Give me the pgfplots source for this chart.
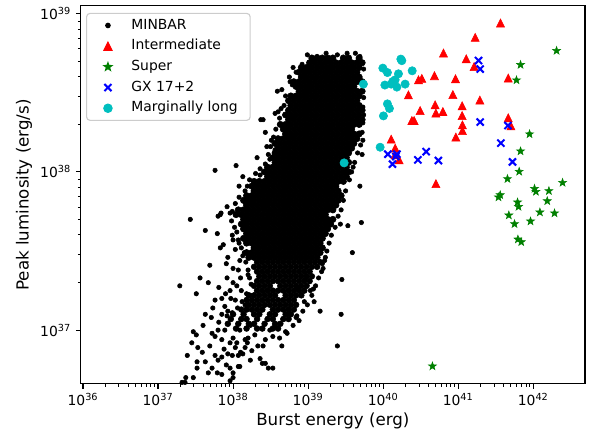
\documentclass[border=0pt]{standalone}
\usepackage{fontspec}
\setmainfont{DejaVu Sans}
\usepackage{pgfplots}
\pgfplotsset{compat=1.18}
\definecolor{mplcyan}{rgb}{0,0.75,0.75}
\definecolor{mplgreen}{rgb}{0,0.5,0}
\pgfdeclareplotmark{mtri}{%
  \pgfpathmoveto{\pgfqpoint{0pt}{\pgfplotmarksize}}%
  \pgfpathlineto{\pgfqpoint{-\pgfplotmarksize}{-\pgfplotmarksize}}%
  \pgfpathlineto{\pgfqpoint{\pgfplotmarksize}{-\pgfplotmarksize}}%
  \pgfpathclose\pgfusepathqfillstroke}
\pgfdeclareplotmark{fstar}{%
  \pgfpathmoveto{\pgfpointpolar{90}{\pgfplotmarksize}}%
  \pgfpathlineto{\pgfpointpolar{126}{0.4\pgfplotmarksize}}%
  \pgfpathlineto{\pgfpointpolar{162}{\pgfplotmarksize}}%
  \pgfpathlineto{\pgfpointpolar{198}{0.4\pgfplotmarksize}}%
  \pgfpathlineto{\pgfpointpolar{234}{\pgfplotmarksize}}%
  \pgfpathlineto{\pgfpointpolar{270}{0.4\pgfplotmarksize}}%
  \pgfpathlineto{\pgfpointpolar{306}{\pgfplotmarksize}}%
  \pgfpathlineto{\pgfpointpolar{342}{0.4\pgfplotmarksize}}%
  \pgfpathlineto{\pgfpointpolar{18}{\pgfplotmarksize}}%
  \pgfpathlineto{\pgfpointpolar{54}{0.4\pgfplotmarksize}}%
  \pgfpathclose\pgfusepathqfillstroke}
\begin{document}
\begin{tikzpicture}
\begin{axis}[
  scale only axis, width=363.1pt, height=272.2pt,
  xmode=log, ymode=log,
  xmin=9.33e35, xmax=4.9e42, ymin=4.57e36, ymax=1.12e39,
  xtick={1e36,1e37,1e38,1e39,1e40,1e41,1e42},
  xticklabels={10\textsuperscript{36},10\textsuperscript{37},10\textsuperscript{38},10\textsuperscript{39},10\textsuperscript{40},10\textsuperscript{41},10\textsuperscript{42}},
  ytick={1e37,1e38,1e39},
  yticklabels={10\textsuperscript{37},10\textsuperscript{38},10\textsuperscript{39}},
  tick align=outside, tick pos=left,
  major tick length=3.5pt, minor tick length=2pt,
  major tick style={line width=0.8pt, black},
  minor tick style={line width=0.6pt, black},
  axis line style={line width=0.8pt},
  tick label style={font=\fontsize{10}{12}\selectfont},
  label style={font=\fontsize{12}{14.4}\selectfont},
  xlabel={Burst energy (erg)}, ylabel={Peak luminosity (erg/s)},
  xlabel style={at={(axis description cs:0.5,-0.111)}, anchor=base},
  ylabel style={at={(axis description cs:-0.1035,0.5)}, anchor=base},
  legend cell align=left,
  legend image code/.code={\path (-8pt,0pt) (8pt,0pt); \draw[sharp corners,#1] plot coordinates {(0pt,0pt)};},
  legend style={at={(axis description cs:0,1)}, anchor=north west, xshift=3.8pt, yshift=-5pt,
    draw=black!20, line width=0.8pt, fill=white, rounded corners=2.5pt,
    inner xsep=7pt, inner ysep=1.7pt, row sep=0.9pt,
    font=\fontsize{10}{12}\selectfont,
    nodes={text height=7.6pt, text depth=2.4pt, inner ysep=2pt},
    /tikz/every odd column/.append style={column sep=6.5pt}},
]
% MINBAR dense core, upper part (log10 E, log10 L)
\addplot[only marks, mark=*, mark size=2.3pt, black, forget plot] table[row sep=\\, x expr=10^\thisrow{lx}, y expr=10^\thisrow{ly}] {
lx ly\\
39.05 38.72\\39.12 38.72\\39.19 38.72\\39.26 38.72\\39.33 38.72\\39.47 38.72\\39.54 38.72\\39.68 38.72\\
39.02 38.69\\39.09 38.69\\39.16 38.69\\39.23 38.69\\39.30 38.69\\39.37 38.69\\39.44 38.69\\39.51 38.69\\39.58 38.69\\39.65 38.69\\39.72 38.69\\
38.91 38.66\\38.98 38.66\\39.05 38.66\\39.12 38.66\\39.19 38.66\\39.26 38.66\\39.33 38.66\\39.40 38.66\\39.47 38.66\\39.54 38.66\\39.61 38.66\\39.68 38.66\\
38.88 38.63\\38.95 38.63\\39.02 38.63\\39.09 38.63\\39.16 38.63\\39.23 38.63\\39.30 38.63\\39.37 38.63\\39.44 38.63\\39.51 38.63\\39.58 38.63\\39.65 38.63\\
38.91 38.60\\38.98 38.60\\39.05 38.60\\39.12 38.60\\39.19 38.60\\39.26 38.60\\39.33 38.60\\39.40 38.60\\39.47 38.60\\39.54 38.60\\39.61 38.60\\39.68 38.60\\
38.81 38.57\\38.88 38.57\\38.95 38.57\\39.02 38.57\\39.09 38.57\\39.16 38.57\\39.23 38.57\\39.30 38.57\\39.37 38.57\\39.44 38.57\\39.51 38.57\\39.58 38.57\\39.65 38.57\\39.72 38.57\\
38.84 38.54\\38.91 38.54\\38.98 38.54\\39.05 38.54\\39.12 38.54\\39.19 38.54\\39.26 38.54\\39.33 38.54\\39.40 38.54\\39.47 38.54\\39.54 38.54\\39.61 38.54\\
38.88 38.51\\38.95 38.51\\39.02 38.51\\39.09 38.51\\39.16 38.51\\39.23 38.51\\39.30 38.51\\39.37 38.51\\39.44 38.51\\39.51 38.51\\39.58 38.51\\39.65 38.51\\39.72 38.51\\
38.77 38.48\\38.84 38.48\\38.91 38.48\\38.98 38.48\\39.05 38.48\\39.12 38.48\\39.19 38.48\\39.26 38.48\\39.33 38.48\\39.40 38.48\\39.47 38.48\\39.54 38.48\\39.61 38.48\\39.68 38.48\\
38.74 38.45\\38.81 38.45\\38.88 38.45\\38.95 38.45\\39.02 38.45\\39.09 38.45\\39.16 38.45\\39.23 38.45\\39.30 38.45\\39.37 38.45\\39.44 38.45\\39.51 38.45\\39.58 38.45\\39.65 38.45\\
38.77 38.42\\38.84 38.42\\38.91 38.42\\38.98 38.42\\39.05 38.42\\39.12 38.42\\39.19 38.42\\39.26 38.42\\39.33 38.42\\39.40 38.42\\39.47 38.42\\39.54 38.42\\39.61 38.42\\39.68 38.42\\
38.74 38.39\\38.81 38.39\\38.88 38.39\\38.95 38.39\\39.02 38.39\\39.09 38.39\\39.16 38.39\\39.23 38.39\\39.30 38.39\\39.37 38.39\\39.44 38.39\\39.51 38.39\\39.58 38.39\\39.65 38.39\\39.72 38.39\\
38.70 38.36\\38.77 38.36\\38.84 38.36\\38.91 38.36\\38.98 38.36\\39.05 38.36\\39.12 38.36\\39.19 38.36\\39.26 38.36\\39.33 38.36\\39.40 38.36\\39.47 38.36\\39.54 38.36\\39.61 38.36\\39.68 38.36\\
38.74 38.33\\38.81 38.33\\38.88 38.33\\38.95 38.33\\39.02 38.33\\39.09 38.33\\39.16 38.33\\39.23 38.33\\39.30 38.33\\39.37 38.33\\39.44 38.33\\39.51 38.33\\39.58 38.33\\39.65 38.33\\39.72 38.33\\
38.63 38.30\\38.70 38.30\\38.77 38.30\\38.84 38.30\\38.91 38.30\\38.98 38.30\\39.05 38.30\\39.12 38.30\\39.19 38.30\\39.26 38.30\\39.33 38.30\\39.40 38.30\\39.47 38.30\\39.54 38.30\\39.61 38.30\\39.68 38.30\\
38.67 38.27\\38.74 38.27\\38.81 38.27\\38.88 38.27\\38.95 38.27\\39.02 38.27\\39.09 38.27\\39.16 38.27\\39.23 38.27\\39.30 38.27\\39.37 38.27\\39.44 38.27\\39.51 38.27\\39.58 38.27\\
38.70 38.24\\38.77 38.24\\38.84 38.24\\38.91 38.24\\38.98 38.24\\39.05 38.24\\39.12 38.24\\39.19 38.24\\39.26 38.24\\39.33 38.24\\39.40 38.24\\39.47 38.24\\39.54 38.24\\39.61 38.24\\39.68 38.24\\
38.60 38.21\\38.67 38.21\\38.74 38.21\\38.81 38.21\\38.88 38.21\\38.95 38.21\\39.02 38.21\\39.09 38.21\\39.16 38.21\\39.23 38.21\\39.30 38.21\\39.37 38.21\\39.44 38.21\\39.51 38.21\\39.58 38.21\\39.65 38.21\\
38.56 38.18\\38.63 38.18\\38.70 38.18\\38.77 38.18\\38.84 38.18\\38.91 38.18\\38.98 38.18\\39.05 38.18\\39.12 38.18\\39.19 38.18\\39.26 38.18\\39.33 38.18\\39.40 38.18\\39.47 38.18\\39.54 38.18\\39.61 38.18\\
38.60 38.15\\38.67 38.15\\38.74 38.15\\38.81 38.15\\38.88 38.15\\38.95 38.15\\39.02 38.15\\39.09 38.15\\39.16 38.15\\39.23 38.15\\39.30 38.15\\39.37 38.15\\39.44 38.15\\39.51 38.15\\39.58 38.15\\
38.56 38.12\\38.63 38.12\\38.70 38.12\\38.77 38.12\\38.84 38.12\\38.91 38.12\\38.98 38.12\\39.05 38.12\\39.12 38.12\\39.19 38.12\\39.26 38.12\\39.33 38.12\\39.40 38.12\\39.47 38.12\\39.54 38.12\\
38.53 38.09\\38.60 38.09\\38.67 38.09\\38.74 38.09\\38.81 38.09\\38.88 38.09\\38.95 38.09\\39.02 38.09\\39.09 38.09\\39.16 38.09\\39.23 38.09\\39.30 38.09\\39.37 38.09\\39.44 38.09\\39.51 38.09\\
38.56 38.06\\38.63 38.06\\38.70 38.06\\38.77 38.06\\38.84 38.06\\38.91 38.06\\38.98 38.06\\39.05 38.06\\39.12 38.06\\39.19 38.06\\39.26 38.06\\39.33 38.06\\39.40 38.06\\39.47 38.06\\39.54 38.06\\
38.46 38.03\\38.53 38.03\\38.60 38.03\\38.67 38.03\\38.74 38.03\\38.81 38.03\\38.88 38.03\\38.95 38.03\\39.02 38.03\\39.09 38.03\\39.16 38.03\\39.23 38.03\\39.30 38.03\\39.37 38.03\\39.44 38.03\\39.51 38.03\\
38.42 38.00\\38.49 38.00\\38.56 38.00\\38.63 38.00\\38.70 38.00\\38.77 38.00\\38.84 38.00\\38.91 38.00\\38.98 38.00\\39.05 38.00\\39.12 38.00\\39.19 38.00\\39.26 38.00\\39.33 38.00\\39.40 38.00\\39.47 38.00\\39.54 38.00\\
38.46 37.97\\38.53 37.97\\38.60 37.97\\38.67 37.97\\38.74 37.97\\38.81 37.97\\38.88 37.97\\38.95 37.97\\39.02 37.97\\39.09 37.97\\39.16 37.97\\39.23 37.97\\39.30 37.97\\39.37 37.97\\39.44 37.97\\39.51 37.97\\
38.28 37.94\\38.35 37.94\\38.42 37.94\\38.49 37.94\\38.56 37.94\\38.63 37.94\\38.70 37.94\\38.77 37.94\\38.84 37.94\\38.91 37.94\\38.98 37.94\\39.05 37.94\\39.12 37.94\\39.19 37.94\\39.26 37.94\\39.33 37.94\\39.40 37.94\\39.47 37.94\\
38.25 37.91\\38.32 37.91\\38.39 37.91\\38.46 37.91\\38.53 37.91\\38.60 37.91\\38.67 37.91\\38.74 37.91\\38.81 37.91\\38.88 37.91\\38.95 37.91\\39.02 37.91\\39.09 37.91\\39.16 37.91\\39.23 37.91\\39.30 37.91\\39.37 37.91\\
38.28 37.88\\38.35 37.88\\38.42 37.88\\38.49 37.88\\38.56 37.88\\38.63 37.88\\38.70 37.88\\38.77 37.88\\38.84 37.88\\38.91 37.88\\38.98 37.88\\39.05 37.88\\39.12 37.88\\39.19 37.88\\39.26 37.88\\39.33 37.88\\39.40 37.88\\
38.18 37.85\\38.25 37.85\\38.32 37.85\\38.39 37.85\\38.46 37.85\\38.53 37.85\\38.60 37.85\\38.67 37.85\\38.74 37.85\\38.81 37.85\\38.88 37.85\\38.95 37.85\\39.02 37.85\\39.09 37.85\\39.16 37.85\\39.23 37.85\\39.30 37.85\\39.37 37.85\\39.44 37.85\\
38.14 37.82\\38.21 37.82\\38.28 37.82\\38.35 37.82\\38.42 37.82\\38.49 37.82\\38.56 37.82\\38.63 37.82\\38.70 37.82\\38.77 37.82\\38.84 37.82\\38.91 37.82\\38.98 37.82\\39.05 37.82\\39.12 37.82\\39.19 37.82\\39.26 37.82\\39.33 37.82\\39.40 37.82\\
38.18 37.79\\38.25 37.79\\38.32 37.79\\38.39 37.79\\38.46 37.79\\38.53 37.79\\38.60 37.79\\38.67 37.79\\38.74 37.79\\38.81 37.79\\38.88 37.79\\38.95 37.79\\39.02 37.79\\39.09 37.79\\39.16 37.79\\39.23 37.79\\39.30 37.79\\39.37 37.79\\
38.07 37.76\\38.14 37.76\\38.21 37.76\\38.28 37.76\\38.35 37.76\\38.42 37.76\\38.49 37.76\\38.56 37.76\\38.63 37.76\\38.70 37.76\\38.77 37.76\\38.84 37.76\\38.91 37.76\\38.98 37.76\\39.05 37.76\\39.12 37.76\\39.19 37.76\\39.26 37.76\\39.33 37.76\\
38.04 37.73\\38.11 37.73\\38.18 37.73\\38.25 37.73\\38.32 37.73\\38.39 37.73\\38.46 37.73\\38.53 37.73\\38.60 37.73\\38.67 37.73\\38.74 37.73\\38.81 37.73\\38.88 37.73\\38.95 37.73\\39.02 37.73\\39.09 37.73\\39.16 37.73\\39.23 37.73\\
38.14 37.70\\38.21 37.70\\38.28 37.70\\38.35 37.70\\38.42 37.70\\38.49 37.70\\38.56 37.70\\38.63 37.70\\38.70 37.70\\38.77 37.70\\38.84 37.70\\38.91 37.70\\38.98 37.70\\39.05 37.70\\39.12 37.70\\39.19 37.70\\39.26 37.70\\39.33 37.70\\
38.11 37.67\\38.18 37.67\\38.25 37.67\\38.32 37.67\\38.39 37.67\\38.46 37.67\\38.53 37.67\\38.60 37.67\\38.67 37.67\\38.74 37.67\\38.81 37.67\\38.88 37.67\\38.95 37.67\\39.02 37.67\\39.09 37.67\\39.16 37.67\\39.23 37.67\\39.30 37.67\\
38.14 37.64\\38.21 37.64\\38.28 37.64\\38.35 37.64\\38.42 37.64\\38.49 37.64\\38.56 37.64\\38.63 37.64\\38.70 37.64\\38.77 37.64\\38.84 37.64\\38.91 37.64\\38.98 37.64\\39.05 37.64\\39.12 37.64\\39.19 37.64\\39.26 37.64\\
38.18 37.61\\38.25 37.61\\38.32 37.61\\38.39 37.61\\38.46 37.61\\38.53 37.61\\38.60 37.61\\38.67 37.61\\38.74 37.61\\38.81 37.61\\38.88 37.61\\38.95 37.61\\39.02 37.61\\39.09 37.61\\39.16 37.61\\39.23 37.61\\
38.14 37.58\\38.21 37.58\\38.28 37.58\\38.35 37.58\\38.42 37.58\\38.49 37.58\\38.56 37.58\\38.63 37.58\\38.70 37.58\\38.77 37.58\\38.84 37.58\\38.91 37.58\\38.98 37.58\\39.05 37.58\\39.12 37.58\\39.19 37.58\\
38.18 37.55\\38.25 37.55\\38.32 37.55\\38.39 37.55\\38.46 37.55\\38.53 37.55\\38.60 37.55\\38.67 37.55\\38.74 37.55\\38.81 37.55\\38.88 37.55\\38.95 37.55\\39.02 37.55\\39.09 37.55\\39.16 37.55\\
38.28 37.52\\38.35 37.52\\38.42 37.52\\38.49 37.52\\38.56 37.52\\38.63 37.52\\38.70 37.52\\38.77 37.52\\38.84 37.52\\38.91 37.52\\38.98 37.52\\39.05 37.52\\39.12 37.52\\39.19 37.52\\
38.18 37.49\\38.25 37.49\\38.32 37.49\\38.39 37.49\\38.46 37.49\\38.53 37.49\\38.60 37.49\\38.67 37.49\\38.74 37.49\\38.81 37.49\\38.88 37.49\\38.95 37.49\\39.02 37.49\\39.09 37.49\\39.16 37.49\\
38.21 37.46\\38.28 37.46\\38.35 37.46\\38.42 37.46\\38.49 37.46\\38.56 37.46\\38.63 37.46\\38.70 37.46\\38.77 37.46\\38.84 37.46\\38.91 37.46\\38.98 37.46\\39.05 37.46\\39.12 37.46\\
};
% MINBAR dense core, lower part
\addplot[only marks, mark=*, mark size=2.1pt, black, forget plot] table[row sep=\\, x expr=10^\thisrow{lx}, y expr=10^\thisrow{ly}] {
lx ly\\
38.32 37.43\\38.39 37.43\\38.46 37.43\\38.53 37.43\\38.60 37.43\\38.67 37.43\\38.74 37.43\\38.81 37.43\\38.88 37.43\\38.95 37.43\\39.02 37.43\\39.09 37.43\\39.16 37.43\\
38.28 37.40\\38.35 37.40\\38.42 37.40\\38.49 37.40\\38.56 37.40\\38.63 37.40\\38.70 37.40\\38.77 37.40\\38.84 37.40\\38.91 37.40\\38.98 37.40\\39.05 37.40\\39.12 37.40\\
38.32 37.37\\38.39 37.37\\38.46 37.37\\38.53 37.37\\38.60 37.37\\38.67 37.37\\38.74 37.37\\38.81 37.37\\38.88 37.37\\38.95 37.37\\39.02 37.37\\
38.35 37.34\\38.42 37.34\\38.49 37.34\\38.56 37.34\\38.63 37.34\\38.70 37.34\\38.77 37.34\\38.84 37.34\\38.91 37.34\\38.98 37.34\\39.05 37.34\\
38.32 37.31\\38.39 37.31\\38.46 37.31\\38.53 37.31\\38.60 37.31\\38.67 37.31\\38.74 37.31\\38.81 37.31\\38.88 37.31\\38.95 37.31\\39.02 37.31\\
38.28 37.28\\38.35 37.28\\38.42 37.28\\38.49 37.28\\38.63 37.28\\38.70 37.28\\38.77 37.28\\38.84 37.28\\38.91 37.28\\38.98 37.28\\
38.32 37.25\\38.39 37.25\\38.46 37.25\\38.53 37.25\\38.60 37.25\\38.67 37.25\\38.74 37.25\\38.81 37.25\\38.88 37.25\\38.95 37.25\\
38.21 37.22\\38.28 37.22\\38.35 37.22\\38.42 37.22\\38.49 37.22\\38.56 37.22\\38.70 37.22\\38.77 37.22\\38.84 37.22\\38.91 37.22\\
38.18 37.19\\38.25 37.19\\38.32 37.19\\38.39 37.19\\38.46 37.19\\38.53 37.19\\38.60 37.19\\38.67 37.19\\38.74 37.19\\38.81 37.19\\
38.21 37.16\\38.28 37.16\\38.35 37.16\\38.42 37.16\\38.49 37.16\\38.56 37.16\\38.63 37.16\\38.70 37.16\\38.77 37.16\\38.84 37.16\\
38.11 37.13\\38.18 37.13\\38.25 37.13\\38.32 37.13\\38.39 37.13\\38.53 37.13\\38.60 37.13\\38.67 37.13\\38.74 37.13\\38.81 37.13\\
38.00 37.10\\38.14 37.10\\38.28 37.10\\38.35 37.10\\38.49 37.10\\38.56 37.10\\38.70 37.10\\38.77 37.10\\
37.97 37.07\\38.11 37.07\\38.18 37.07\\38.32 37.07\\38.46 37.07\\38.53 37.07\\38.67 37.07\\38.74 37.07\\
37.93 37.04\\38.07 37.04\\38.21 37.04\\38.28 37.04\\38.42 37.04\\38.56 37.04\\38.63 37.04\\
38.04 37.01\\38.18 37.01\\38.32 37.01\\38.39 37.01\\38.53 37.01\\38.60 37.01\\
};
% MINBAR fringe and outliers
\addplot[only marks, mark=*, mark size=1.6pt, black] table[row sep=\\, x expr=10^\thisrow{lx}, y expr=10^\thisrow{ly}] {
lx ly\\
38.99 38.74\\39.07 38.71\\39.12 38.73\\39.24 38.75\\39.39 38.74\\39.52 38.75\\39.63 38.75\\39.69 38.73\\38.92 38.68\\38.93 38.65\\
38.75 38.60\\38.59 38.51\\38.65 38.52\\38.60 38.38\\38.56 38.37\\38.37 38.33\\38.40 38.33\\38.43 38.25\\38.45 38.16\\38.32 38.09\\
38.04 38.04\\37.76 38.01\\38.13 37.97\\38.08 37.91\\38.19 37.91\\37.92 37.78\\37.96 37.74\\37.83 37.73\\37.43 37.70\\37.84 37.74\\
37.80 37.72\\39.73 38.41\\39.73 38.31\\39.73 38.20\\39.72 38.11\\39.60 38.03\\39.69 37.91\\39.71 37.68\\39.53 37.66\\39.43 37.67\\
39.59 37.49\\39.45 37.32\\39.44 37.10\\39.39 36.90\\39.19 37.42\\39.23 37.46\\39.20 37.39\\39.16 37.12\\37.63 37.63\\37.79 37.61\\
37.83 37.52\\37.87 37.54\\37.99 37.60\\38.00 37.57\\38.08 37.55\\38.03 37.51\\37.91 37.42\\38.00 37.39\\38.07 37.38\\37.29 37.28\\
37.51 37.23\\37.67 37.30\\37.81 37.27\\37.92 37.33\\38.05 37.28\\38.11 37.25\\37.73 37.14\\37.63 37.10\\37.60 37.03\\37.71 37.08\\
37.81 37.05\\37.89 37.15\\37.92 37.09\\37.47 36.99\\37.51 36.97\\37.45 36.92\\37.53 36.89\\37.39 36.84\\37.59 36.86\\37.52 36.80\\
37.63 36.80\\37.80 36.81\\37.85 36.83\\37.37 36.70\\37.47 36.70\\37.52 36.76\\37.79 36.73\\37.85 36.72\\38.00 36.70\\38.00 36.73\\
38.09 36.77\\37.93 36.85\\37.99 36.84\\38.07 36.84\\38.13 36.85\\38.16 36.89\\38.19 36.92\\37.76 36.96\\37.85 36.94\\37.96 36.92\\
38.05 36.92\\38.16 36.94\\38.36 36.82\\38.43 36.79\\38.53 36.76\\38.65 36.90\\38.72 36.98\\38.53 36.96\\38.43 36.94\\38.40 36.90\\
38.85 37.09\\38.84 37.08\\38.72 37.10\\37.36 36.67\\37.72 36.76\\37.96 36.76\\38.07 36.77\\38.39 36.79\\38.47 36.76\\37.96 36.68\\
37.32 36.67\\39.03 37.25\\39.07 37.26\\38.95 37.18\\39.08 37.18\\38.96 37.32\\38.85 37.27\\38.09 37.00\\38.23 37.03\\38.29 36.97\\
38.20 36.95\\38.33 36.90\\38.49 37.00\\38.56 37.03\\38.39 37.01\\38.25 36.87\\38.03 36.89\\37.89 37.00\\37.69 36.90\\37.76 36.84\\
38.23 36.81\\37.67 36.73\\37.91 36.78\\38.16 37.66\\38.09 37.44\\38.20 37.35\\37.96 37.25\\37.85 37.20\\38.03 37.19\\37.76 37.19\\
38.16 37.16\\38.23 37.22\\37.93 37.46\\38.15 37.49\\37.69 37.41\\37.56 37.33\\38.49 38.08\\38.36 37.98\\38.29 37.92\\38.39 37.85\\
38.23 37.82\\38.56 38.14\\38.63 38.30\\38.68 38.42\\38.79 38.55\\38.84 38.63\\38.51 38.20\\
38.80 38.66\\38.76 38.57\\38.70 38.48\\38.64 38.40\\38.62 38.34\\38.57 38.27\\38.54 38.22\\38.50 38.16\\38.47 38.11\\38.43 38.05\\
38.36 38.02\\38.30 37.99\\38.22 37.95\\38.16 37.88\\38.08 37.84\\38.03 37.80\\37.99 37.75\\37.98 37.69\\38.02 37.65\\38.05 37.62\\
38.07 37.57\\38.11 37.52\\38.13 37.47\\38.17 37.43\\38.20 37.38\\38.22 37.33\\38.24 37.29\\38.18 37.23\\38.12 37.18\\38.06 37.14\\
37.99 37.11\\39.74 38.65\\39.74 38.55\\39.74 38.47\\39.74 38.36\\39.72 38.25\\39.70 38.17\\39.66 38.12\\39.62 38.06\\39.58 38.00\\
39.55 37.95\\39.50 37.88\\39.47 37.82\\39.44 37.76\\39.40 37.72\\39.36 37.65\\39.31 37.60\\39.28 37.55\\39.25 37.50\\39.22 37.44\\
39.18 37.37\\39.14 37.33\\39.10 37.28\\39.05 37.22\\38.99 37.16\\38.93 37.12\\38.88 37.06\\38.80 37.03\\38.70 36.99\\38.62 36.95\\
37.93 37.12\\37.85 37.10\\37.97 37.20\\37.90 37.23\\38.00 37.30\\38.10 37.33\\37.80 37.00\\37.72 36.98\\38.00 36.95\\37.88 36.88\\
38.10 36.86\\
};
\addlegendentry{MINBAR}
% Intermediate
\addplot[only marks, mark=mtri, mark size=2.9pt, red, fill=red] table[row sep=\\, x expr=10^\thisrow{lx}, y expr=10^\thisrow{ly}] {
lx ly\\
41.564 38.941\\41.227 38.850\\40.804 38.751\\41.107 38.715\\41.213 38.666\\40.684 38.608\\40.471 38.582\\40.516 38.591\\
40.964 38.589\\41.667 38.593\\40.337 38.487\\40.929 38.489\\41.289 38.454\\40.493 38.388\\40.693 38.424\\40.703 38.372\\
40.796 38.382\\41.053 38.418\\41.053 38.356\\40.383 38.325\\40.413 38.325\\41.057 38.297\\41.057 38.261\\40.969 38.220\\
41.667 38.342\\41.703 38.291\\40.107 38.207\\40.160 38.150\\40.160 38.108\\40.213 38.076\\40.703 37.926\\
};
\addlegendentry{Intermediate}
% Super
\addplot[only marks, mark=fstar, mark size=3pt, mplgreen, fill=mplgreen] table[row sep=\\, x expr=10^\thisrow{lx}, y expr=10^\thisrow{ly}] {
lx ly\\
42.311 38.766\\41.831 38.677\\41.777 38.580\\41.951 38.239\\41.831 38.131\\41.813 38.002\\41.657 37.956\\42.391 37.932\\
42.017 37.894\\42.036 37.875\\42.209 37.880\\41.560 37.854\\41.537 37.840\\41.791 37.808\\41.804 37.780\\42.187 37.816\\
42.089 37.745\\42.284 37.739\\41.675 37.726\\41.964 37.688\\41.751 37.671\\41.796 37.574\\41.840 37.557\\40.657 36.772\\
};
\addlegendentry{Super}
% GX 17+2
\addplot[only marks, mark=x, mark size=3.6pt, blue, mark options={line width=1.5pt}] table[row sep=\\, x expr=10^\thisrow{lx}, y expr=10^\thisrow{ly}] {
lx ly\\
41.271 38.704\\41.293 38.650\\41.293 38.315\\41.663 38.293\\41.569 38.182\\41.724 38.063\\40.573 38.128\\
40.463 38.076\\40.737 38.072\\40.063 38.112\\40.183 38.112\\40.169 38.097\\40.124 38.049\\
};
\addlegendentry{GX 17+2}
% Marginally long
\addplot[only marks, mark=*, mark size=3pt, mplcyan] table[row sep=\\, x expr=10^\thisrow{lx}, y expr=10^\thisrow{ly}] {
lx ly\\
40.236 38.713\\40.249 38.703\\39.996 38.656\\40.057 38.628\\40.204 38.620\\40.387 38.639\\40.160 38.582\\40.129 38.572\\
40.023 38.549\\40.183 38.536\\40.293 38.555\\40.107 38.555\\39.737 38.555\\40.057 38.430\\40.084 38.401\\40.004 38.354\\
39.960 38.156\\39.480 38.057\\
};
\addlegendentry{Marginally long}
\end{axis}
\pgfresetboundingbox
\path[use as bounding box] ([shift={(-58.1pt,-36.7pt)}]current axis.south west) rectangle ([shift={(6.5pt,4.3pt)}]current axis.north east);
\end{tikzpicture}
\end{document}
